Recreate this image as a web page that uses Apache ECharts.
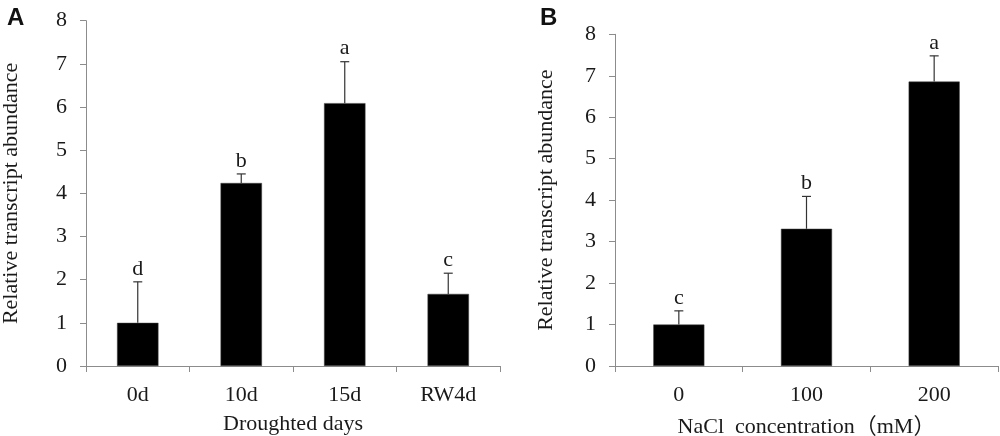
<!DOCTYPE html>
<html><head><meta charset="utf-8">
<script src="https://cdn.jsdelivr.net/npm/echarts@6/dist/echarts.min.js"></script>
<style>html,body{margin:0;padding:0;background:#fff}#c{width:1000px;height:436px}</style>
</head><body><div id="c"></div>
<script>
const catsA = ['0d','10d','15d','RW4d'];
const meanA = [1.0, 4.24, 6.09, 1.67];
const errTopA = [1.95, 4.45, 7.05, 2.15];
const letterA = ['d','b','a','c'];
const catsB = ['0','100','200'];
const meanB = [1.0, 3.31, 6.86];
const errTopB = [1.33, 4.09, 7.48];
const letterB = ['c','b','a'];
const yTicks = [0,1,2,3,4,5,6,7,8];

const FONT = '"Liberation Serif","Times New Roman",serif';
const CJK = '"Liberation Serif","Noto Sans CJK SC",serif';
const FS = 22;
const axisGray = '#8c8c8c';
const txt = '#1a1a1a';

function errSeries(gi, tops, letters){
  return {
    type:'custom', xAxisIndex:gi, yAxisIndex:gi, z:3,
    data: tops.map((t,i)=>[i, t]),
    renderItem(params, api){
      const i = api.value(0);
      const base = api.coord([i, gi===0?meanA[i]:meanB[i]]);
      const top = api.coord([i, api.value(1)]);
      const cw = 4.5;
      return {type:'group', children:[
        {type:'line', shape:{x1:top[0], y1:base[1], x2:top[0], y2:top[1]}, style:{stroke:'#333', lineWidth:1.2}},
        {type:'line', shape:{x1:top[0]-cw, y1:top[1], x2:top[0]+cw, y2:top[1]}, style:{stroke:'#333', lineWidth:1.2}},
        {type:'text', style:{x:top[0], y:top[1]-2, text:letters[i], textAlign:'center', textVerticalAlign:'bottom', font:FS+'px '+FONT, fill:txt}}
      ]};
    }
  };
}

const yAxisCommon = (gap)=>({
  type:'value', min:0, max:8, interval:1,
  name:'Relative transcript abundance', nameLocation:'middle', nameRotate:90, nameGap:gap,
  nameTextStyle:{fontFamily:FONT, fontSize:FS, color:txt},
  axisLine:{show:true, lineStyle:{color:axisGray, width:1}},
  axisTick:{show:true, length:6, lineStyle:{color:axisGray}},
  axisLabel:{fontFamily:FONT, fontSize:FS, color:txt, margin:19},
  splitLine:{show:false}
});
const xAxisCommon = (cats, name, gap)=>({
  type:'category', data:cats,
  name:name, nameLocation:'middle', nameGap:gap,
  nameTextStyle:{fontFamily:CJK, fontSize:FS, color:txt},
  axisLine:{lineStyle:{color:axisGray, width:1}},
  axisTick:{show:true, length:6, alignWithLabel:false, lineStyle:{color:axisGray}},
  axisLabel:{fontFamily:FONT, fontSize:FS, color:txt, margin:18}
});

const chart = echarts.init(document.getElementById('c'), null, {renderer:'canvas'});
chart.setOption({
  animation:false,
  backgroundColor:'#fff',
  title:[
    {text:'A', left:2, top:1, textStyle:{fontFamily:'"Liberation Sans",Arial,sans-serif', fontWeight:'bold', fontSize:24, color:'#111'}},
    {text:'B', left:535, top:1, textStyle:{fontFamily:'"Liberation Sans",Arial,sans-serif', fontWeight:'bold', fontSize:24, color:'#111'}}
  ],
  grid:[
    {left:86, right:500, top:20.7, bottom:70, containLabel:false, outerBoundsMode:'none'},
    {left:615, right:2, top:34.3, bottom:70, containLabel:false, outerBoundsMode:'none'}
  ],
  xAxis:[
    Object.assign(xAxisCommon(catsA,'Droughted days',47),{gridIndex:0}),
    Object.assign(xAxisCommon(catsB,'NaCl  concentration（mM）',50),{gridIndex:1})
  ],
  yAxis:[
    Object.assign(yAxisCommon(64),{gridIndex:0}),
    Object.assign(yAxisCommon(58),{gridIndex:1})
  ],
  series:[
    {type:'bar', xAxisIndex:0, yAxisIndex:0, data:meanA, barWidth:'40%', itemStyle:{color:'#000', borderColor:'#444', borderWidth:0.5}, z:2},
    {type:'bar', xAxisIndex:1, yAxisIndex:1, data:meanB, barWidth:'40%', itemStyle:{color:'#000', borderColor:'#444', borderWidth:0.5}, z:2},
    errSeries(0, errTopA, letterA),
    errSeries(1, errTopB, letterB)
  ]
});
</script></body></html>
